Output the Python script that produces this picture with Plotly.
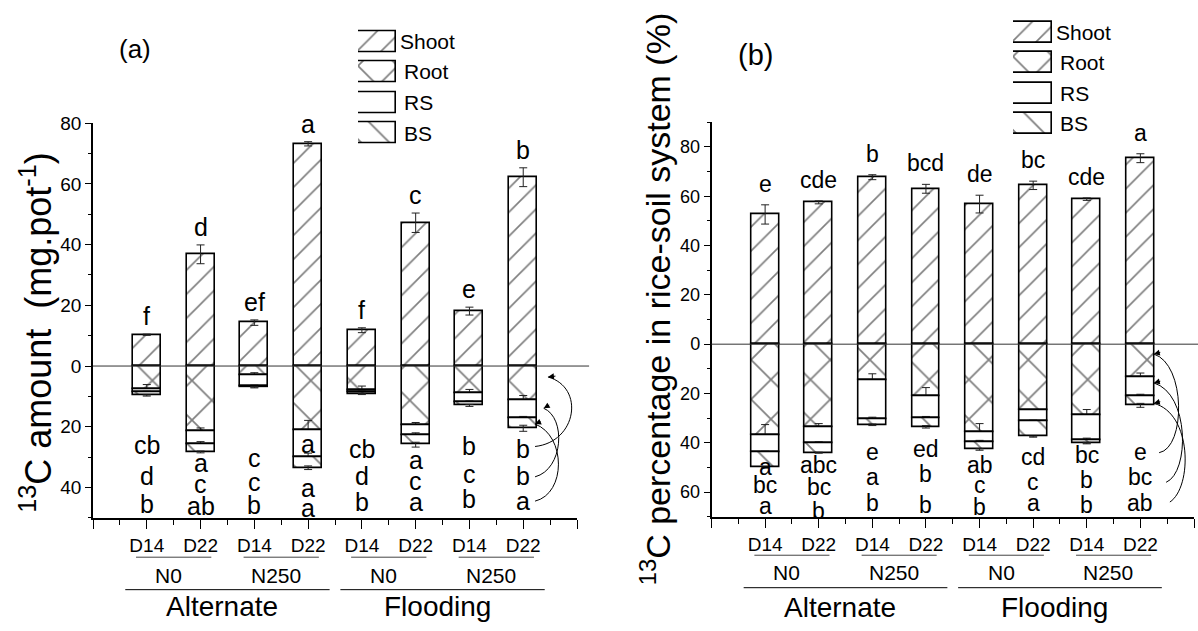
import plotly.graph_objects as go

# ---------------- data ----------------
categories = ["D14", "D22", "D14", "D22", "D14", "D22", "D14", "D22"]
nitrogen = ["N0", "N250", "N0", "N250"]
water = ["Alternate", "Flooding"]
series_names = ["Shoot", "Root", "RS", "BS"]

# (a) 13C amount (mg pot-1)
shoot_a = [10.3, 36.8, 14.3, 73.2, 11.8, 47.2, 18.1, 62.2]
shoot_a_err = [0.2, 3.1, 0.9, 0.7, 0.8, 3.2, 1.3, 3.1]
root_a = [7.5, 21.4, 3.0, 21.1, 7.8, 19.4, 9.0, 11.2]
root_a_err = [1.4, 1.0, 0.8, 3.2, 1.2, 0.8, 1.3, 1.5]
rs_a = [1.1, 4.3, 3.6, 8.8, 0.8, 3.3, 2.9, 6.1]
rs_a_err = [0.3, 0.8, 0.3, 1.2, 0.4, 0.7, 0.4, 0.7]
bs_a = [1.1, 2.6, 0.4, 3.6, 0.6, 3.2, 1.1, 3.2]
bs_a_err = [0.2, 0.3, 0.2, 0.6, 0.2, 0.8, 0.3, 1.0]

letters_a_shoot = ["f", "d", "ef", "a", "f", "c", "e", "b"]
letters_a_root = ["cb", "a", "c", "a", "cb", "a", "b", "b"]
letters_a_rs = ["d", "c", "c", "a", "d", "c", "c", "b"]
letters_a_bs = ["b", "ab", "b", "a", "b", "a", "b", "a"]

# (b) 13C percentage in rice-soil system (%)
shoot_b = [52.6, 57.5, 67.7, 63.0, 56.8, 64.4, 58.8, 75.4]
shoot_b_err = [3.9, 0.6, 1.0, 1.8, 3.6, 1.7, 0.5, 1.8]
root_b = [36.7, 33.7, 14.8, 21.1, 35.5, 26.8, 28.7, 13.5]
root_b_err = [4.1, 1.5, 2.8, 3.5, 3.3, 0.3, 2.2, 1.8]
rs_b = [7.0, 6.4, 15.6, 8.9, 4.2, 4.3, 10.4, 7.6]
rs_b_err = [0.3, 0.5, 0.8, 0.7, 0.7, 0.3, 1.0, 0.8]
bs_b = [6.3, 3.9, 2.3, 3.5, 3.0, 6.4, 1.0, 3.7]
bs_b_err = [0.2, 0.2, 0.3, 0.5, 0.3, 0.2, 0.3, 0.8]

letters_b_shoot = ["e", "cde", "b", "bcd", "de", "bc", "cde", "a"]
letters_b_root = ["a", "abc", "e", "ed", "ab", "cd", "bc", "e"]
letters_b_rs = ["bc", "bc", "a", "b", "c", "c", "b", "bc"]
letters_b_bs = ["a", "b", "b", "b", "b", "a", "b", "ab"]

# label row positions (layout, in axis units)
rowpos_a = [[-26.1, -31.9, -30.2, -25.7, -27.2, -31.1, -26.5, -27.2],
            [-36.2, -38.9, -38.3, -40.2, -36.2, -37.8, -35.6, -36.2],
            [-45.6, -46.2, -45.9, -46.7, -44.8, -44.8, -43.7, -44.3]]
rowpos_b = [[-49.7, -49.0, -43.7, -42.4, -49.0, -45.7, -45.0, -43.7],
            [-57.0, -58.0, -53.7, -52.7, -57.0, -55.7, -55.0, -54.0],
            [-65.7, -67.7, -64.4, -65.3, -66.0, -64.4, -65.0, -64.4]]

# ---------------- style ----------------
W, H = 1198, 631
NARROW = "Liberation Sans Narrow, Arial Narrow, Liberation Sans, Arial, sans-serif"
REG = "Liberation Sans, Arial, sans-serif"
PATTERNS = {
    "Shoot": dict(shape="/", size=17, solidity=0.1, fgcolor="black", bgcolor="white"),
    "Root": dict(shape="x", size=28, solidity=0.12, fgcolor="black", bgcolor="white"),
    "RS": dict(shape="", fgcolor="black", bgcolor="white"),
    "BS": dict(shape="\\", size=20, solidity=0.09, fgcolor="black", bgcolor="white"),
}


def px2x(p):
    return p / W


def px2y(p):
    return 1 - p / H


fig = go.Figure()
xpos = list(range(1, len(categories) + 1))

panels = [
    dict(xa="x", ya="y", xkey="xaxis", ykey="yaxis",
         xdom=[93, 577], ydom=[115, 516], yrange=[-50, 80],
         yt=[-40, -20, 0, 20, 40, 60, 80],
         data=[(shoot_a, shoot_a_err), (root_a, root_a_err), (rs_a, rs_a_err), (bs_a, bs_a_err)],
         letters=[letters_a_shoot, letters_a_root, letters_a_rs, letters_a_bs], rows=rowpos_a,
         lfont=25, shift=2, tickfont=19,
         leg=dict(x=[358, 396], y=[16.5, 140.5], key="3"),
         tag="(a)", tagpos=(117, 22), tagsize=26,
         title="<sup>13</sup>C amount\u00a0 (mg.pot<sup>-1</sup>)", titlepos=(11, 328), titlesize=36,
         zero_end=1.025,
         sub_y=[556, 575], grp_y=[589, 606],
         arrows=[("M 8.22,-26.5 C 9.0,-25 9.15,-7 8.46,-3.6", 8.46, -3.6, 9, -1),
                 ("M 8.22,-36.5 C 8.75,-34 8.8,-17 8.38,-13.9", 8.38, -13.9, 7, -4),
                 ("M 8.22,-44.5 C 8.8,-42 8.8,-23 8.22,-19.1", 8.22, -19.1, 7, -3)]),
    dict(xa="x2", ya="y2", xkey="xaxis2", ykey="yaxis2",
         xdom=[711.5, 1194], ydom=[114, 515], yrange=[-70, 90],
         yt=[-60, -40, -20, 0, 20, 40, 60, 80],
         data=[(shoot_b, shoot_b_err), (root_b, root_b_err), (rs_b, rs_b_err), (bs_b, bs_b_err)],
         letters=[letters_b_shoot, letters_b_root, letters_b_rs, letters_b_bs], rows=rowpos_b,
         lfont=23, shift=6, tickfont=18,
         leg=dict(x=[1013, 1052], y=[7, 131], key="4"),
         tag="(b)", tagpos=(755, 27), tagsize=29,
         title="<sup>13</sup>C percentage in rice-soil system (%)", titlepos=(655, 294), titlesize=34,
         zero_end=1.01,
         sub_y=[554, 572], grp_y=[587, 607],
         arrows=[("M 8.35,-44 C 8.85,-42 8.85,-8 8.25,-4", 8.25, -4, 8, -2),
                 ("M 8.48,-56 C 8.92,-52 8.92,-20 8.25,-15.7", 8.25, -15.7, 8, -2),
                 ("M 8.55,-64 C 8.97,-58 8.97,-28 8.25,-24", 8.25, -24, 8, -2)]),
]

annotations = []
shapes = []
layout_axes = {}

for p in panels:
    # stacked bars
    for k, name in enumerate(series_names):
        vals, errs = p["data"][k]
        sign = 1 if k == 0 else -1
        fig.add_trace(go.Bar(
            x=xpos, y=[sign * v for v in vals], width=0.52,
            xaxis=p["xa"], yaxis=p["ya"], name=name, showlegend=False,
            marker=dict(color="white", line=dict(color="black", width=1.6),
                        pattern=PATTERNS[name]),
            error_y=dict(type="data", array=errs, color="#222", thickness=1, width=4),
        ))
    # letters above shoot
    sv, se = p["data"][0]
    for i, t in enumerate(p["letters"][0]):
        annotations.append(dict(x=xpos[i], y=sv[i] + se[i], xref=p["xa"], yref=p["ya"],
                                text=t, showarrow=False, yanchor="bottom", yshift=p["shift"],
                                font=dict(family=NARROW, size=p["lfont"], color="black")))
    # letters below (root, RS, BS rows)
    for r in range(3):
        for i, t in enumerate(p["letters"][r + 1]):
            annotations.append(dict(x=xpos[i], y=p["rows"][r][i], xref=p["xa"], yref=p["ya"],
                                    text=t, showarrow=False, yanchor="middle",
                                    font=dict(family=NARROW, size=p["lfont"], color="black")))
    # axes
    layout_axes[p["xkey"]] = dict(
        domain=[px2x(p["xdom"][0]), px2x(p["xdom"][1])], range=[0, 9],
        anchor=p["ya"], showline=True, linecolor="black", linewidth=2,
        tickmode="array", tickvals=list(range(0, 10)), ticktext=[""] + categories + [""],
        ticks="outside", ticklen=9, tickwidth=1.2, tickcolor="black",
        minor=dict(dtick=0.5, tick0=0, ticks="outside", ticklen=5, tickcolor="black", tickwidth=1),
        tickfont=dict(family=NARROW, size=19, color="black"), ticklabelstandoff=0,
        showgrid=False, zeroline=False, fixedrange=True,
    )
    layout_axes[p["ykey"]] = dict(
        domain=[px2y(p["ydom"][1]), px2y(p["ydom"][0])], range=p["yrange"],
        anchor=p["xa"], showline=True, linecolor="black", linewidth=1.5,
        tickmode="array", tickvals=p["yt"], ticktext=[str(abs(v)) for v in p["yt"]],
        ticks="outside", ticklen=6, tickwidth=1.2, tickcolor="black",
        minor=dict(dtick=10, tick0=0, ticks="outside", ticklen=3, tickcolor="black", tickwidth=1),
        tickfont=dict(family=NARROW, size=p["tickfont"], color="black"),
        showgrid=False, zeroline=False, fixedrange=True,
    )
    # zero line
    shapes.append(dict(type="line", xref=p["xa"] + " domain", yref=p["ya"], x0=0, x1=p["zero_end"],
                       y0=0, y1=0, line=dict(color="#333", width=1)))
    # category hierarchy: N levels and water regimes
    for j, lab in enumerate(nitrogen):
        c = xpos[2 * j] + 0.5
        shapes.append(dict(type="line", xref=p["xa"], yref="paper", x0=c - 0.7, x1=c + 0.7,
                           y0=px2y(p["sub_y"][0]), y1=px2y(p["sub_y"][0]),
                           line=dict(color="#444", width=1)))
        annotations.append(dict(x=c - 0.1, y=px2y(p["sub_y"][1]), xref=p["xa"], yref="paper", text=lab,
                                showarrow=False, yanchor="middle",
                                font=dict(family=NARROW, size=21, color="black")))
    for j, lab in enumerate(water):
        c = xpos[4 * j] + 1.5
        shapes.append(dict(type="line", xref=p["xa"], yref="paper", x0=c - 1.9, x1=c + 1.9,
                           y0=px2y(p["grp_y"][0]), y1=px2y(p["grp_y"][0]),
                           line=dict(color="black", width=1)))
        annotations.append(dict(x=c - 0.1, y=px2y(p["grp_y"][1]), xref=p["xa"], yref="paper", text=lab,
                                showarrow=False, yanchor="middle",
                                font=dict(family=NARROW, size=28, color="black")))
    # curved arrows
    for path, tx, ty, ax, ay in p["arrows"]:
        shapes.append(dict(type="path", xref=p["xa"], yref=p["ya"], path=path,
                           line=dict(color="black", width=1)))
        annotations.append(dict(x=tx, y=ty, xref=p["xa"], yref=p["ya"], text="", showarrow=True,
                                ax=ax, ay=ay, arrowhead=2, arrowsize=1.2, arrowwidth=1,
                                arrowcolor="black", standoff=0))
    # panel tag and y title
    annotations.append(dict(x=px2x(p["tagpos"][0]), y=px2y(p["tagpos"][1]), xref="paper", yref="paper",
                            text=p["tag"], showarrow=False,
                            font=dict(family=REG, size=p["tagsize"], color="black")))
    annotations.append(dict(x=px2x(p["titlepos"][0]), y=px2y(p["titlepos"][1]), xref="paper",
                            yref="paper", text=p["title"], showarrow=False, textangle=-90,
                            font=dict(family=REG, size=p["titlesize"], color="black")))
    # custom legend made of small horizontal patterned bars
    lk = p["leg"]["key"]
    for k, name in enumerate(series_names):
        fig.add_trace(go.Bar(
            x=[1], y=[k], base=[0], orientation="h", width=0.68, cliponaxis=False,
            xaxis="x" + lk, yaxis="y" + lk, name=name, showlegend=False,
            marker=dict(color="white", line=dict(color="black", width=1.6),
                        pattern=PATTERNS[name]),
        ))
        annotations.append(dict(x=1, y=k, xref="x" + lk, yref="y" + lk, text=name,
                                showarrow=False, xanchor="left", xshift=2 if k == 0 else 6,
                                font=dict(family=NARROW, size=21, color="black")))
    layout_axes["xaxis" + lk] = dict(domain=[px2x(p["leg"]["x"][0]), px2x(p["leg"]["x"][1])],
                                     range=[0, 1], visible=False, anchor="y" + lk, fixedrange=True)
    layout_axes["yaxis" + lk] = dict(domain=[px2y(p["leg"]["y"][1]), px2y(p["leg"]["y"][0])],
                                     range=[3.5, -0.5], visible=False, anchor="x" + lk, fixedrange=True)

fig.update_layout(
    width=W, height=H, margin=dict(l=0, r=0, t=0, b=0),
    paper_bgcolor="white", plot_bgcolor="white",
    barmode="relative", bargap=0, showlegend=False,
    annotations=annotations, shapes=shapes,
    **layout_axes,
)

fig.write_html("out.html")
